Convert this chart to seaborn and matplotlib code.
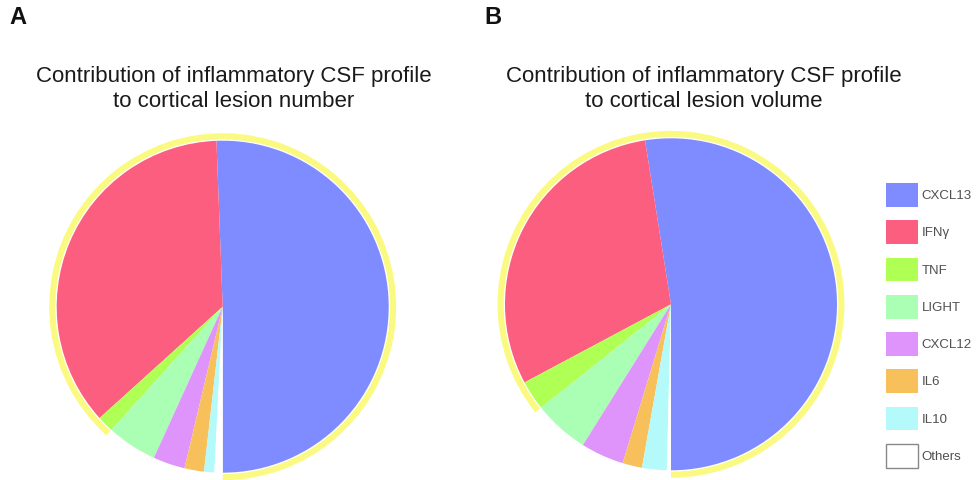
import matplotlib
matplotlib.use("Agg")
import matplotlib.pyplot as plt
import seaborn as sns
from matplotlib.patches import Patch

sns.set_theme(style="white")
plt.rcParams['font.family'] = ['Liberation Sans', 'DejaVu Sans']

categories = ["CXCL13", "IFNγ", "TNF", "LIGHT", "CXCL12", "IL6", "IL10", "Others"]
number_values = [50.6, 36.1, 1.6, 4.9, 3.1, 1.9, 1.0, 0.8]
volume_values = [52.5, 30.3, 2.9, 5.4, 4.2, 1.9, 2.4, 0.4]
highlighted = 3  # first three contributors are outlined by the yellow arc
colors = ["#7F8CFF", "#FC5E80", "#B0FF55", "#AAFFB4", "#DE94FA", "#F7C05A", "#B4FAFA", "#FFFFFF"]
ring_color = "#FAFA82"

panel_letters = ["A", "B"]
titles = ["Contribution of inflammatory CSF profile\nto cortical lesion number",
          "Contribution of inflammatory CSF profile\nto cortical lesion volume"]

W, H = 977, 480
fig = plt.figure(figsize=(W / 100, H / 100), dpi=100)


def add_pie(values, cx, cy, r):
    lim = 1.1
    size = 2 * r * lim
    ax = fig.add_axes([(cx - r * lim) / W, (H - cy - r * lim) / H, size / W, size / H])
    ax.pie(values, colors=colors, startangle=-90, counterclock=True, radius=1.0,
           wedgeprops=dict(edgecolor="none", linewidth=0))
    top = sum(values[:highlighted])
    ax.pie([top, sum(values) - top], colors=[ring_color, "none"], startangle=-90,
           counterclock=True, radius=1.045,
           wedgeprops=dict(width=0.037, edgecolor="none", linewidth=0))
    ax.set_xlim(-lim, lim)
    ax.set_ylim(-lim, lim)
    ax.set_aspect("equal")
    ax.axis("off")
    return ax


add_pie(number_values, 222.7, 306.7, 166)
add_pie(volume_values, 671, 304.3, 166)

for letter, x in zip(panel_letters, [9, 484]):
    fig.text(x / W, 1 - 17.5 / H, letter, fontsize=17, fontweight="bold",
             ha="left", va="center", color="#111111")

for t, x in zip(titles, [234, 704]):
    fig.text(x / W, 1 - 89 / H, t, fontsize=16, ha="center", va="center",
             color="#1a1a1a", linespacing=1.2)

handles = []
for c, lab in zip(colors, categories):
    if lab == "Others":
        handles.append(Patch(facecolor="white", edgecolor="#888888", linewidth=1.0, label=lab))
    else:
        handles.append(Patch(facecolor=c, edgecolor=c, linewidth=0, label=lab))

leg = fig.legend(handles=handles, loc="upper left", bbox_to_anchor=(886 / W, 1 - 183 / H),
                 frameon=False, fontsize=9.5, handlelength=2.4, handleheight=2.4,
                 labelspacing=1.02, handletextpad=0.3, borderaxespad=0, borderpad=0)
for txt in leg.get_texts():
    txt.set_color("#505050")

fig.savefig("out.png", dpi=100, facecolor="white")
